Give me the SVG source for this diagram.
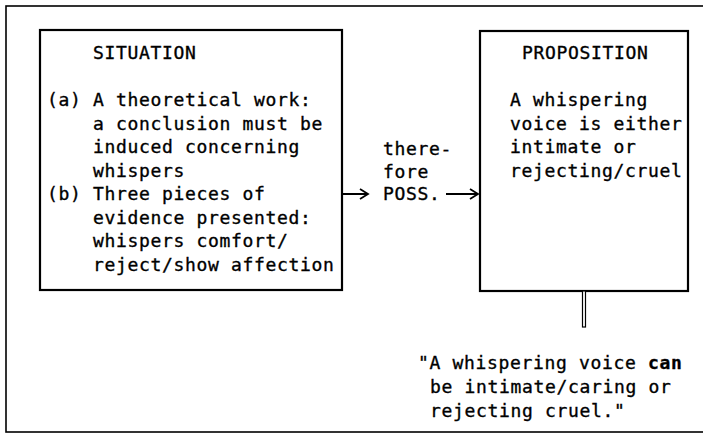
<svg xmlns="http://www.w3.org/2000/svg" width="703" height="435" viewBox="0 0 703 435">
<style>
  .t { font-family: "DejaVu Sans Mono", "Liberation Mono", monospace; font-size: 18px; letter-spacing: 0.66px; fill: #000; stroke: #000; stroke-width: 0.35px; }
  .box { fill: #fff; stroke: #000; stroke-width: 2.2; }
  .frame { fill: none; stroke: #000; stroke-width: 1.6; }
  .conn { fill: none; stroke: #000; stroke-width: 1.8; }
</style>
<rect width="703" height="435" fill="#fff"/>
<rect class="frame" x="6" y="6" width="710" height="426"/>

<g id="situation">
  <rect class="box" x="40" y="30" width="302" height="260"/>
  <text class="t" x="93" y="59">SITUATION</text>
  <text class="t" x="47" y="106">(a) A theoretical work:</text>
  <text class="t" x="93" y="129.5">a conclusion must be</text>
  <text class="t" x="93" y="153">induced concerning</text>
  <text class="t" x="93" y="176.5">whispers</text>
  <text class="t" x="47" y="200">(b) Three pieces of</text>
  <text class="t" x="93" y="223.5">evidence presented:</text>
  <text class="t" x="93" y="247">whispers comfort/</text>
  <text class="t" x="93" y="270.5">reject/show affection</text>
</g>

<g id="inference">
  <text class="t" x="383" y="155">there-</text>
  <text class="t" x="383" y="177.5">fore</text>
  <text class="t" x="383" y="200">POSS.</text>
</g>

<g id="proposition">
  <rect class="box" x="480" y="31" width="208" height="260"/>
  <text class="t" x="522" y="59">PROPOSITION</text>
  <text class="t" x="510" y="106">A whispering</text>
  <text class="t" x="510" y="129.5">voice is either</text>
  <text class="t" x="510" y="153">intimate or</text>
  <text class="t" x="510" y="176.5">rejecting/cruel</text>
</g>

<g id="statement">
  <text class="t" x="418" y="369">"A whispering voice <tspan font-weight="bold">can</tspan></text>
  <text class="t" x="430" y="393">be intimate/caring or</text>
  <text class="t" x="430" y="417">rejecting cruel."</text>
</g>

<g id="connectors">
  <path class="conn" d="M342 194 H367 M360 189 L368 194 L360 199"/>
  <path class="conn" d="M446 194 H478 M470 189 L478 194 L470 199"/>
  <rect x="582.5" y="291" width="3" height="36" fill="#fff" stroke="#000" stroke-width="1.2"/>
</g>
</svg>
